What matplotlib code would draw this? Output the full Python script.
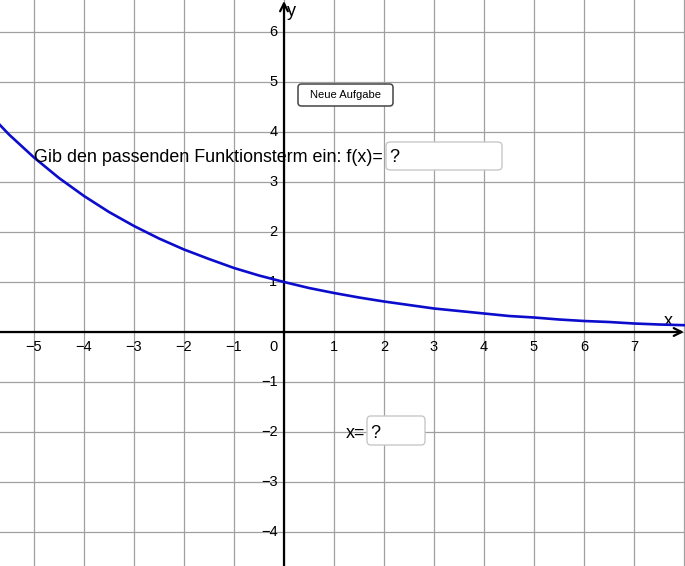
import matplotlib
matplotlib.use('Agg')
import matplotlib.pyplot as plt
from matplotlib.patches import FancyBboxPatch

plt.rcParams['font.family'] = ['Liberation Sans', 'DejaVu Sans']

# curve f(x)
curve_x = [-5.7, -5.5, -5.0, -4.5, -4.0, -3.5, -3.0, -2.5, -2.0, -1.5, -1.0, -0.5,
           0.0, 0.5, 1.0, 1.5, 2.0, 2.5, 3.0, 3.5, 4.0, 4.5, 5.0, 5.5, 6.0, 6.5,
           7.0, 7.5, 8.05]
curve_y = [4.16, 3.95, 3.49, 3.08, 2.72, 2.40, 2.12, 1.87, 1.65, 1.46, 1.28, 1.13,
           1.00, 0.88, 0.78, 0.69, 0.61, 0.54, 0.47, 0.42, 0.37, 0.32, 0.29, 0.25,
           0.22, 0.20, 0.17, 0.15, 0.135]

x_ticks = [-5, -4, -3, -2, -1, 1, 2, 3, 4, 5, 6, 7]
y_ticks = [-4, -3, -2, -1, 1, 2, 3, 4, 5, 6]
grid_x = list(range(-5, 9))
grid_y = list(range(-4, 7))
xlim = (-5.68, 8.02)
ylim = (-4.68, 6.64)

fig = plt.figure(figsize=(6.85, 5.66), dpi=100)
ax = fig.add_axes([0, 0, 1, 1])
ax.set_xlim(*xlim)
ax.set_ylim(*ylim)

for gx in grid_x:
    ax.axvline(gx, color='#a0a0a0', lw=0.9, zorder=0)
for gy in grid_y:
    ax.axhline(gy, color='#a0a0a0', lw=0.9, zorder=0)

for s in ax.spines.values():
    s.set_visible(False)
ax.set_xticks([])
ax.set_yticks([])

# axes with arrows
ax.annotate('', xy=(xlim[1] - 0.02, 0), xytext=(xlim[0], 0),
            arrowprops=dict(arrowstyle='->', lw=1.6, color='black',
                            mutation_scale=14, shrinkA=0, shrinkB=0), zorder=3)
ax.annotate('', xy=(0, ylim[1] - 0.02), xytext=(0, ylim[0]),
            arrowprops=dict(arrowstyle='->', lw=1.6, color='black',
                            mutation_scale=14, shrinkA=0, shrinkB=0), zorder=3)

for v in x_ticks:
    ax.text(v, -0.3, str(v).replace('-', '\u2212'), ha='center', va='center', fontsize=10.5)
for v in y_ticks:
    ax.text(-0.13, v, str(v).replace('-', '\u2212'), ha='right', va='center', fontsize=10.5)
ax.text(-0.22, -0.3, '0', ha='center', va='center', fontsize=10.5)
ax.text(7.68, 0.2, 'x', ha='center', va='center', fontsize=13)
ax.text(0.15, 6.4, 'y', ha='center', va='center', fontsize=13)

ax.plot(curve_x, curve_y, color='#0c0ccc', lw=1.9, zorder=4, solid_capstyle='butt')

# input widgets
ax.text(-5.0, 3.48, 'Gib den passenden Funktionsterm ein: f(x)=', ha='left', va='center',
        fontsize=12.9, zorder=5)
box1 = FancyBboxPatch((2.04, 3.24), 2.32, 0.56, boxstyle='round,pad=0,rounding_size=0.08',
                      fc='white', ec='#c8c8c8', lw=1, zorder=5)
ax.add_patch(box1)
ax.text(2.1, 3.48, '?', ha='left', va='center', fontsize=12.9, zorder=6)

btn = FancyBboxPatch((0.28, 4.52), 1.9, 0.44, boxstyle='round,pad=0,rounding_size=0.07',
                     fc='white', ec='#444444', lw=1.1, zorder=5)
ax.add_patch(btn)
ax.text(1.23, 4.74, 'Neue Aufgabe', ha='center', va='center', fontsize=8, zorder=6)

ax.text(1.24, -2.02, 'x=', ha='left', va='center', fontsize=12.9, zorder=5)
box2 = FancyBboxPatch((1.66, -2.26), 1.16, 0.58, boxstyle='round,pad=0,rounding_size=0.08',
                      fc='white', ec='#c8c8c8', lw=1, zorder=5)
ax.add_patch(box2)
ax.text(1.72, -2.02, '?', ha='left', va='center', fontsize=12.9, zorder=6)

fig.savefig('out.png', dpi=100)
